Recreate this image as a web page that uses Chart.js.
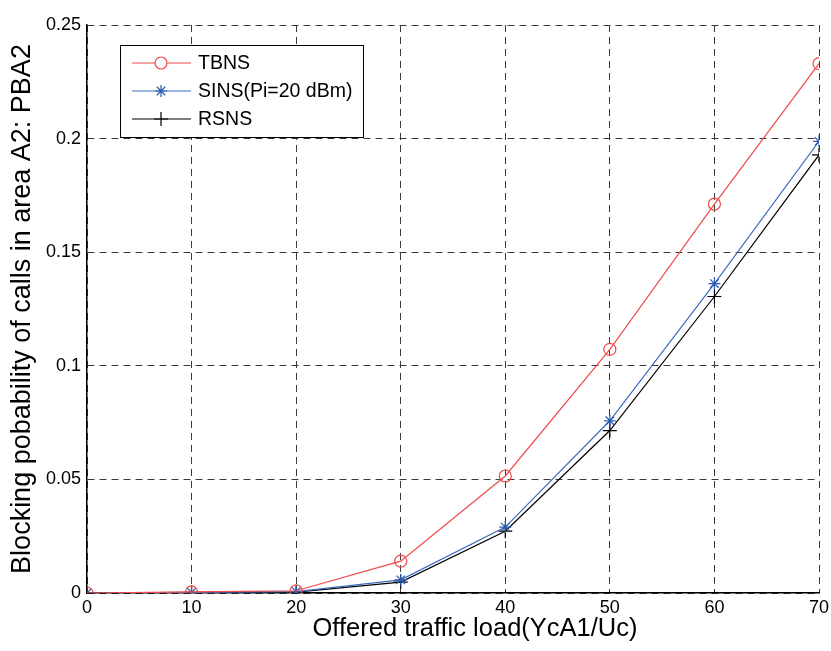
<!DOCTYPE html>
<html>
<head>
<meta charset="utf-8">
<script src="https://cdn.jsdelivr.net/npm/chart.js@4.4.1/dist/chart.umd.min.js"></script>
<style>
  html, body { margin: 0; padding: 0; background: #fff; }
  #wrap { width: 831px; height: 651px; }
</style>
</head>
<body>
<div id="wrap"><canvas id="LineChart" width="831" height="651"></canvas></div>
<script>
const loads = [0, 10, 20, 30, 40, 50, 60, 70];
const tbns = [0, 0.0005, 0.001, 0.014, 0.0515, 0.1072, 0.1712, 0.233];
const sins = [0, 0.0003, 0.0006, 0.0058, 0.029, 0.0758, 0.1362, 0.1988];
const rsns = [0, 0.0002, 0.0004, 0.0048, 0.0272, 0.0715, 0.1305, 0.1928];
const yTicks = [0, 0.05, 0.1, 0.15, 0.2, 0.25];
const seriesNames = ['TBNS', 'SINS(Pi=20 dBm)', 'RSNS'];
const xTitle = 'Offered traffic load(YcA1/Uc)';

const FONT = 'Liberation Sans, Arial, sans-serif';

function toPoints(vals) {
    return loads.map((x, i) => ({ x: x, y: vals[i] }));
}

// matlab-style legend box in the top-left corner, plus the x title
const boxLegend = {
    id: 'boxLegend',
    afterDraw(chart) {
        const ctx = chart.ctx;
        const x0 = 120, y0 = 45, w = 243, h = 92;
        ctx.save();
        ctx.fillStyle = '#fff';
        ctx.fillRect(x0, y0, w, h);
        ctx.strokeStyle = '#000';
        ctx.lineWidth = 1;
        ctx.strokeRect(x0 + 0.5, y0 + 0.5, w, h);
        chart.data.datasets.forEach((ds, i) => {
            const y = y0 + 18 + i * 28;
            ctx.strokeStyle = ds.borderColor;
            ctx.lineWidth = 1.2;
            ctx.beginPath();
            ctx.moveTo(132, y);
            ctx.lineTo(191, y);
            ctx.stroke();
            ctx.strokeStyle = ds.pointBorderColor;
            Chart.helpers.drawPoint(ctx, {
                pointStyle: ds.pointStyle,
                radius: ds.pointRadius,
                rotation: 0,
                borderWidth: 1.2
            }, 161, y);
            ctx.fillStyle = '#000';
            ctx.font = '19.5px ' + FONT;
            ctx.textBaseline = 'middle';
            ctx.textAlign = 'left';
            ctx.fillText(ds.label, 198, y + 1);
        });

        ctx.font = '25.5px ' + FONT;
        ctx.textAlign = 'center';
        ctx.textBaseline = 'middle';
        ctx.fillStyle = '#000';
        ctx.fillText(xTitle, 475, 629);
        ctx.restore();
    }
};

const ctxLine = document.getElementById('LineChart').getContext('2d');
new Chart(ctxLine, {
    type: 'line',
    data: {
        datasets: [{
            label: seriesNames[0],
            data: toPoints(tbns),
            borderColor: '#f04a4a',
            backgroundColor: 'rgba(0,0,0,0)',
            borderWidth: 1.2,
            pointStyle: 'circle',
            pointRadius: 6,
            pointBorderColor: '#f04a4a',
            pointBackgroundColor: 'rgba(0,0,0,0)',
            pointBorderWidth: 1.2,
            tension: 0
        }, {
            label: seriesNames[1],
            data: toPoints(sins),
            borderColor: '#3b6dc0',
            backgroundColor: 'rgba(0,0,0,0)',
            borderWidth: 1.2,
            pointStyle: 'star',
            pointRadius: 6,
            pointBorderColor: '#2a5bb0',
            pointBorderWidth: 1.2,
            tension: 0
        }, {
            label: seriesNames[2],
            data: toPoints(rsns),
            borderColor: '#000',
            backgroundColor: 'rgba(0,0,0,0)',
            borderWidth: 1.2,
            pointStyle: 'cross',
            pointRadius: 7,
            pointBorderColor: '#000',
            pointBorderWidth: 1.2,
            tension: 0
        }]
    },
    options: {
        responsive: false,
        animation: false,
        layout: { padding: { left: 0, top: 25, right: 12, bottom: 0 } },
        plugins: {
            legend: { display: false },
            tooltip: { enabled: false }
        },
        scales: {
            x: {
                type: 'linear',
                min: 0,
                max: 70,
                afterFit(scale) {
                    scale.height = 58;
                    scale.paddingRight = 0;
                    scale.paddingLeft = 0;
                },
                ticks: {
                    stepSize: 10,
                    color: '#000',
                    font: { family: FONT, size: 18 },
                    padding: 4,
                    maxRotation: 0
                },
                grid: { color: '#3a3a3a', lineWidth: 1, drawTicks: false },
                border: { display: true, color: '#000', width: 1.5, dash: [7, 5] }
            },
            y: {
                min: 0,
                max: 0.25,
                afterFit(scale) { scale.width = 87; },
                afterBuildTicks(scale) { scale.ticks = yTicks.map(v => ({ value: v })); },
                ticks: {
                    color: '#000',
                    font: { family: FONT, size: 18 },
                    padding: 6,
                    callback: v => String(Math.round(v * 100) / 100)
                },
                grid: { color: '#3a3a3a', lineWidth: 1, drawTicks: false },
                border: { display: true, color: '#000', width: 1.5, dash: [7, 5] },
                title: {
                    display: true,
                    text: 'Blocking pobability of calls in area A2: PBA2',
                    color: '#000',
                    font: { family: FONT, size: 27 },
                    padding: { top: 6, bottom: 0 }
                }
            }
        }
    },
    plugins: [boxLegend]
});
</script>
</body>
</html>
